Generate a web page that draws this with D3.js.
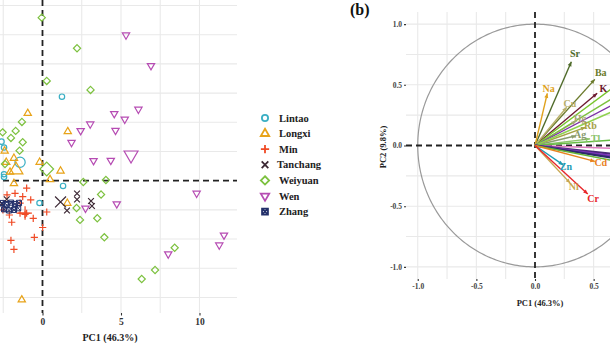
<!DOCTYPE html>
<html>
<head>
<meta charset="utf-8">
<script src="https://cdn.jsdelivr.net/npm/d3@7"></script>
<style>
  body { margin: 0; background: #fff; }
  text { font-family: "Liberation Serif", "Times New Roman", serif; font-weight: bold; }
</style>
</head>
<body>
<div id="chart"></div>
<script>
// groups shown in the score plot legend
var groups = ['Lintao', 'Longxi', 'Min', 'Tanchang', 'Weiyuan', 'Wen', 'Zhang'];

// PCA scores, [PC1, PC2] for each sample
var lintaoScores = [[1.24, 7.19], [-2.61, 3.34], [-2.45, 2.84], [-2.45, 0.55], [-2.45, 0.32],
  [1.31, -0.45], [-0.19, -1.91], [-4.0, 1.5], [-3.5, 4.0]];
var longxiScores = [[-0.94, 5.77], [1.61, 4.20], [-2.41, 2.54], [-1.82, 1.92], [-2.31, 1.58],
  [-0.18, 1.58], [1.15, 0.83], [0.48, 0.10], [-1.82, -0.24], [1.58, -1.93], [-1.32, -10.2], [-2.07, 0.74]];
var minScores = [[-1.01, -0.63], [-1.75, -1.08], [-1.26, -1.37], [-0.75, -1.65], [-1.43, -1.93],
  [-2.11, -2.94], [-1.43, -2.77], [-1.11, -2.88], [-1.01, -2.79], [-0.59, -3.22], [-1.96, -3.56],
  [0.27, -2.68], [0.01, -4.01], [-0.52, -4.86], [-2.01, -5.12], [-1.82, -5.89], [-2.52, -2.51], [-2.26, -1.22]];
var tanchangScores = [[2.20, -1.10], [2.20, -1.61], [1.56, -2.55], [3.09, -1.74], [3.15, -2.17],
  [-2.28, -1.59], [-2.58, -2.0]];
var weiyuanScores = [[-0.05, 13.96], [2.20, 11.34], [0.27, 8.54], [3.06, 7.77], [-1.31, 5.03],
  [-2.54, 4.14], [-1.71, 4.26], [-2.01, 3.66], [-1.26, 3.29], [-1.46, 2.57], [-2.39, 1.43],
  [2.60, -0.11], [4.04, 0.06], [3.73, -1.18], [2.17, -2.34], [3.49, -3.22], [2.39, -3.36],
  [3.94, -4.85], [8.42, -5.74], [7.17, -7.65], [6.32, -8.42]];
var wenScores = [[5.32, 12.47], [6.91, 9.85], [6.11, 6.11], [4.57, 5.74], [5.24, 5.26], [3.04, 4.85],
  [2.43, 4.28], [4.65, 4.30], [1.85, 3.27], [3.25, 1.71], [4.35, 1.73], [9.82, -1.08],
  [4.73, -1.99], [2.74, -2.36], [8.01, -6.28], [11.56, -4.67], [11.26, -5.51]];
var zhangScores = [[-2.58, -1.91], [-2.28, -2.08], [-2.0, -1.88], [-1.74, -2.0], [-1.5, -1.9],
  [-2.45, -2.45], [-2.13, -2.55], [-1.82, -2.5], [-1.55, -2.36]];

// group centroids (drawn as the larger symbols)
var centroids = [[-1.43, 1.58], [-1.69, 0.92], [-1.11, -2.77], [1.15, -1.82], [0.27, 1.0], [5.64, 2.20], [-2.2, -2.2]];

// axis ticks of the score plot
var scoreTicks = [0, 5, 10];

// PCA loadings for panel (b)
var elements = ['Sr', 'Ba', 'K', 'Na', 'Cu', 'Hg', 'Rb', 'Ag', 'Tl', 'Mn', 'Co', 'Pb', 'Li', 'V',
  'Fe', 'As', 'Sb', 'Mo', 'Al', 'Zn', 'Cd', 'Ni', 'Cr'];
var pc1Loadings = [0.31, 0.51, 0.53, 0.105, 0.27, 0.35, 0.43, 0.35, 0.47, 0.85, 0.85, 0.85, 0.85, 0.88,
  0.85, 0.85, 0.85, 0.85, 0.80, 0.24, 0.51, 0.30, 0.45];
var pc2Loadings = [0.69, 0.545, 0.43, 0.43, 0.315, 0.2, 0.15, 0.08, 0.055, 0.61, 0.5, 0.43, 0.36, 0.06,
  -0.03, -0.09, -0.11, -0.13, -0.15, -0.16, -0.131, -0.31, -0.40];
var loadingTicksY = [-1.0, -0.5, 0.0, 0.5, 1.0];
var loadingTicksX = [-1.0, -0.5, 0.0, 0.5];

var allScores = [lintaoScores, longxiScores, minScores, tanchangScores, weiyuanScores, wenScores, zhangScores];

var width = 610, height = 343;
var svg = d3.select('#chart').append('svg')
  .attr('width', width)
  .attr('height', height);

var color = d3.scaleOrdinal()
  .domain(groups)
  .range(['#3aafc4', '#e8a319', '#f04a25', '#3b2733', '#7cc13e', '#b64cb3', '#23306a']);

var shape = d3.scaleOrdinal()
  .domain(groups)
  .range(['circle', 'triangle', 'plus', 'times', 'diamond', 'triangleDown', 'squareX']);

// path for a marker of a given shape, r is the half size
function markerPath(s, r) {
  var h = r * 0.87;
  switch (s) {
    case 'circle':
      return 'M' + (-r) + ',0A' + r + ',' + r + ' 0 1,1 ' + r + ',0A' + r + ',' + r + ' 0 1,1 ' + (-r) + ',0Z';
    case 'triangle':
      return 'M0,' + (-r) + 'L' + h + ',' + (r * 0.5) + 'L' + (-h) + ',' + (r * 0.5) + 'Z';
    case 'triangleDown':
      return 'M0,' + r + 'L' + h + ',' + (-r * 0.5) + 'L' + (-h) + ',' + (-r * 0.5) + 'Z';
    case 'plus':
      return 'M' + (-r) + ',0H' + r + 'M0,' + (-r) + 'V' + r;
    case 'times':
      var t = r * 0.8;
      return 'M' + (-t) + ',' + (-t) + 'L' + t + ',' + t + 'M' + (-t) + ',' + t + 'L' + t + ',' + (-t);
    case 'diamond':
      return 'M0,' + (-r) + 'L' + r + ',0L0,' + r + 'L' + (-r) + ',0Z';
    case 'squareX':
      var q = r * 0.8;
      return 'M' + (-q) + ',' + (-q) + 'H' + q + 'V' + q + 'H' + (-q) + 'Z' +
        'M' + (-q) + ',' + (-q) + 'L' + q + ',' + q + 'M' + (-q) + ',' + q + 'L' + q + ',' + (-q);
  }
}
var baseSize = {circle: 2.7, triangle: 4.2, triangleDown: 4.2, plus: 3.6, times: 3.6, diamond: 3.6, squareX: 3.2};

// ---------------- panel (a): scores ----------------
var a = {left: -17, right: 237, top: 0, bottom: 313};
var x = d3.scaleLinear().domain([-3.79, 12.39]).range([a.left, a.right]);
var y = d3.scaleLinear().domain([-11.33, 15.47]).range([a.bottom, a.top]);

var gA = svg.append('g');

// grid
gA.selectAll('.vgrid')
  .data(d3.range(-2.5, 12.5, 2.5).filter(function(d) { return d !== 0; }))
  .enter().append('line')
  .attr('x1', function(d) { return x(d); })
  .attr('x2', function(d) { return x(d); })
  .attr('y1', a.top).attr('y2', a.bottom)
  .attr('stroke', '#e9e9e9').attr('stroke-width', 1.1);
gA.selectAll('.hgrid')
  .data(d3.range(-10, 15.1, 2.5).filter(function(d) { return d !== 0; }))
  .enter().append('line')
  .attr('x1', a.left).attr('x2', a.right)
  .attr('y1', function(d) { return y(d); })
  .attr('y2', function(d) { return y(d); })
  .attr('stroke', '#e9e9e9').attr('stroke-width', 1.1);

// zero lines
gA.append('line')
  .attr('x1', x(0)).attr('x2', x(0)).attr('y1', a.top).attr('y2', a.bottom)
  .attr('stroke', '#222').attr('stroke-width', 1.8).attr('stroke-dasharray', '6,4');
gA.append('line')
  .attr('x1', a.left).attr('x2', a.right).attr('y1', y(0)).attr('y2', y(0))
  .attr('stroke', '#222').attr('stroke-width', 1.8).attr('stroke-dasharray', '6,4');

// points
var points = [];
allScores.forEach(function(list, i) {
  list.forEach(function(p) { points.push({group: groups[i], pc1: p[0], pc2: p[1], big: false}); });
  points.push({group: groups[i], pc1: centroids[i][0], pc2: centroids[i][1], big: true});
});

gA.selectAll('.pt')
  .data(points)
  .enter().append('path')
  .attr('class', 'pt')
  .attr('transform', function(d) { return 'translate(' + x(d.pc1) + ',' + y(d.pc2) + ')'; })
  .attr('d', function(d) {
    var s = shape(d.group);
    return markerPath(s, baseSize[s] * (d.big ? 1.9 : 1));
  })
  .attr('fill', 'none')
  .attr('stroke', function(d) { return color(d.group); })
  .attr('stroke-width', function(d) { return d.group === 'Zhang' ? 1.0 : 1.2; });

// x axis
var xAxisA = gA.append('g')
  .attr('transform', 'translate(0,' + a.bottom + ')')
  .call(d3.axisBottom(x).tickValues(scoreTicks).tickSize(2.5).tickPadding(3));
xAxisA.select('.domain').remove();
xAxisA.selectAll('line').attr('stroke', '#333').attr('stroke-width', 1.1);
xAxisA.selectAll('text').attr('font-size', 9.5).attr('fill', '#333')
  .style('font-family', '"Liberation Serif", serif').style('font-weight', 'bold');

gA.append('text')
  .attr('x', (a.left + a.right) / 2)
  .attr('y', 341)
  .attr('text-anchor', 'middle')
  .attr('font-size', 10)
  .attr('fill', '#222')
  .text('PC1 (46.3%)');

// legend
var legend = svg.selectAll('.legend')
  .data(groups)
  .enter().append('g')
  .attr('class', 'legend')
  .attr('transform', function(d, i) { return 'translate(265,' + (118 + i * 15.6) + ')'; });
legend.append('path')
  .attr('d', function(d) { var s = shape(d); return markerPath(s, baseSize[s] * 1.15); })
  .attr('fill', 'none')
  .attr('stroke', function(d) { return color(d); })
  .attr('stroke-width', 1.8);
legend.append('text')
  .attr('x', function(d) { return d === 'Tanchang' ? 12 : 14; })
  .attr('y', 3.5)
  .attr('font-size', 10.5)
  .attr('fill', '#222')
  .text(function(d) { return d; });

// ---------------- panel (b): loadings ----------------
var xb = d3.scaleLinear().domain([-1.1, 1.1]).range([406, 664]);
var yb = d3.scaleLinear().domain([-1.1, 1.1]).range([279, 12]);
var gB = svg.append('g');

var gridVals = d3.range(-1, 1.01, 0.25).filter(function(d) { return Math.abs(d) > 1e-9; });
gB.selectAll('.vg').data(gridVals).enter().append('line')
  .attr('x1', function(d) { return xb(d); }).attr('x2', function(d) { return xb(d); })
  .attr('y1', yb(1.1)).attr('y2', yb(-1.1))
  .attr('stroke', '#e9e9e9').attr('stroke-width', 1.1);
gB.selectAll('.hg').data(gridVals).enter().append('line')
  .attr('x1', xb(-1.1)).attr('x2', xb(1.1))
  .attr('y1', function(d) { return yb(d); }).attr('y2', function(d) { return yb(d); })
  .attr('stroke', '#e9e9e9').attr('stroke-width', 1.1);

// unit circle
var circleLine = d3.line()
  .x(function(t) { return xb(Math.cos(t)); })
  .y(function(t) { return yb(Math.sin(t)); });
gB.append('path')
  .attr('d', circleLine(d3.range(0, Math.PI * 2 + 0.01, 0.02)))
  .attr('fill', 'none').attr('stroke', '#9a9a9a').attr('stroke-width', 1.2);

gB.append('line')
  .attr('x1', xb(0)).attr('x2', xb(0)).attr('y1', yb(1.1)).attr('y2', yb(-1.1))
  .attr('stroke', '#222').attr('stroke-width', 1.8).attr('stroke-dasharray', '6,4');
gB.append('line')
  .attr('x1', xb(-1.1)).attr('x2', xb(1.1)).attr('y1', yb(0)).attr('y2', yb(0))
  .attr('stroke', '#222').attr('stroke-width', 1.8).attr('stroke-dasharray', '6,4');

var elColor = d3.scaleOrdinal()
  .domain(elements)
  .range(['#4f6b2a', '#6b7b2c', '#6e1b30', '#e0a21e', '#b9b06a', '#a8a678', '#a5a245', '#8a9c6e', '#8cc46a',
    '#78c62b', '#7cc13e', '#7b2fa6', '#8fd14f', '#66bb44',
    '#e07ac0', '#4b2a7a', '#7a34b8', '#2e2a6b', '#63b43a', '#1f9bb3', '#e8831e', '#c8a64e', '#e8262a']);

var loads = elements.map(function(e, i) { return {name: e, pc1: pc1Loadings[i], pc2: pc2Loadings[i]}; });

gB.selectAll('.arrow')
  .data(loads)
  .enter().append('line')
  .attr('x1', xb(0)).attr('y1', yb(0))
  .attr('x2', function(d) { return xb(d.pc1); })
  .attr('y2', function(d) { return yb(d.pc2); })
  .attr('stroke', function(d) { return elColor(d.name); })
  .attr('stroke-width', function(d) { return ['As', 'Sb', 'Mo'].indexOf(d.name) >= 0 ? 2.2 : 1.4; });

// arrow heads
gB.selectAll('.head')
  .data(loads)
  .enter().append('path')
  .attr('d', function(d) {
    var ex = xb(d.pc1), ey = yb(d.pc2);
    var ang = Math.atan2(ey - yb(0), ex - xb(0));
    var L = 4.5, W = 2;
    var bx = ex - L * Math.cos(ang), by = ey - L * Math.sin(ang);
    return 'M' + ex + ',' + ey +
      'L' + (bx - W * Math.sin(ang)) + ',' + (by + W * Math.cos(ang)) +
      'L' + (bx + W * Math.sin(ang)) + ',' + (by - W * Math.cos(ang)) + 'Z';
  })
  .attr('fill', function(d) { return elColor(d.name); });

// labels, only those that fall inside the visible frame
gB.selectAll('.elabel')
  .data(loads.filter(function(d) { return xb(d.pc1 * 1.1) < width - 5; }))
  .enter().append('text')
  .attr('x', function(d) { return xb(d.pc1 * 1.1); })
  .attr('y', function(d) { return yb(d.pc2 * 1.1) + 3.5; })
  .attr('text-anchor', 'middle')
  .attr('font-size', 10)
  .attr('fill', function(d) { return elColor(d.name); })
  .text(function(d) { return d.name; });

// axes of panel (b)
function fmt(d) { return d.toFixed(1); }
var xAxisB = gB.append('g')
  .attr('transform', 'translate(0,' + yb(-1.1) + ')')
  .call(d3.axisBottom(xb).tickValues(loadingTicksX).tickFormat(fmt).tickSize(2).tickPadding(3));
var yAxisB = gB.append('g')
  .attr('transform', 'translate(' + xb(-1.1) + ',0)')
  .call(d3.axisLeft(yb).tickValues(loadingTicksY).tickFormat(fmt).tickSize(2).tickPadding(2));
[xAxisB, yAxisB].forEach(function(ax) {
  ax.select('.domain').remove();
  ax.selectAll('line').attr('stroke', '#333').attr('stroke-width', 1.1);
  ax.selectAll('text').attr('font-size', 7.5).attr('fill', '#444')
    .style('font-family', '"Liberation Serif", serif').style('font-weight', 'bold');
});

gB.append('text')
  .attr('x', 540).attr('y', 306)
  .attr('text-anchor', 'middle')
  .attr('font-size', 8.5).attr('fill', '#222')
  .text('PC1 (46.3%)');
gB.append('text')
  .attr('transform', 'translate(386,147) rotate(-90)')
  .attr('text-anchor', 'middle')
  .attr('font-size', 8.5).attr('fill', '#222')
  .text('PC2 (9.8%)');

svg.append('text')
  .attr('x', 350).attr('y', 15)
  .attr('font-size', 16).attr('fill', '#111')
  .text('(b)');
</script>
</body>
</html>
